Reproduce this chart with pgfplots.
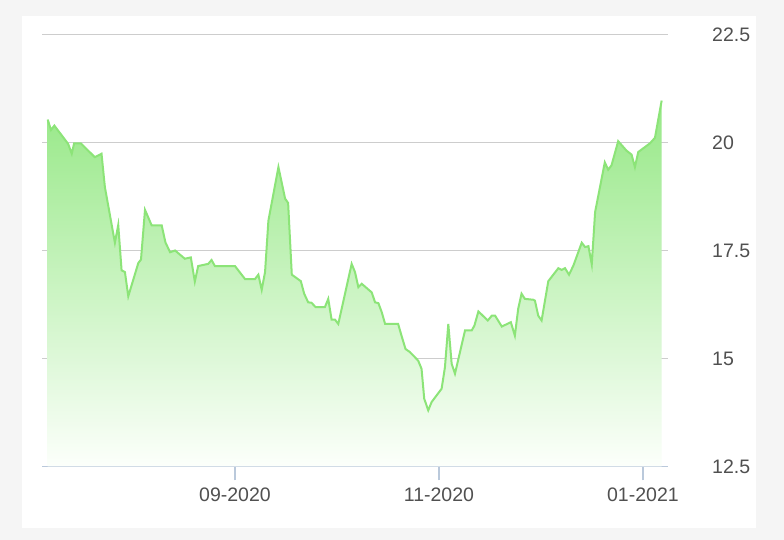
\documentclass[border=0pt]{standalone}
\usepackage{pgfplots}
\pgfplotsset{compat=1.18}
\usepackage{pgfplotstable}
\usepackage{fontspec}
\setmainfont{Liberation Sans}
\definecolor{bggray}{RGB}{245,245,245}
\definecolor{linegreen}{RGB}{140,228,120}
\definecolor{filltop}{RGB}{150,232,134}
\definecolor{fillbot}{RGB}{252,255,251}
\definecolor{gridgray}{RGB}{205,205,205}
\definecolor{axisblue}{RGB}{186,201,219}
\definecolor{labelgray}{RGB}{80,80,80}
\pgfplotstableread{
d v
-56.0 20.53
-55.0 20.29
-54.0 20.39
-49.9 19.97
-48.8 19.74
-48.1 19.98
-46.1 19.98
-41.9 19.66
-39.9 19.74
-38.9 18.97
-35.9 17.68
-34.9 18.09
-33.9 17.04
-32.9 17.00
-31.9 16.44
-28.9 17.21
-28.1 17.29
-26.9 18.44
-24.9 18.08
-21.9 18.08
-20.8 17.69
-19.4 17.46
-17.9 17.50
-15.0 17.31
-13.2 17.34
-12.0 16.78
-11.0 17.14
-8.0 17.19
-7.0 17.28
-6.0 17.14
0.0 17.14
3.0 16.84
6.0 16.84
7.0 16.94
8.0 16.59
9.0 17.00
10.0 18.19
13.0 19.43
15.0 18.70
15.9 18.60
17.0 16.94
19.7 16.79
20.7 16.50
21.9 16.30
22.9 16.29
24.1 16.19
26.9 16.19
27.9 16.38
28.9 15.90
29.9 15.90
30.9 15.80
34.9 17.19
35.9 17.00
36.9 16.65
37.9 16.73
40.9 16.53
41.9 16.30
42.9 16.28
43.9 16.07
44.9 15.80
48.8 15.80
49.8 15.53
51.0 15.22
52.3 15.15
54.8 14.95
55.8 14.76
56.6 14.07
57.8 13.80
58.8 13.99
61.8 14.30
62.8 14.80
63.8 15.80
64.8 14.88
65.8 14.65
68.8 15.65
70.8 15.65
71.6 15.76
72.8 16.09
75.6 15.88
76.8 15.99
77.8 15.99
79.8 15.74
82.5 15.84
83.7 15.53
84.7 16.15
85.7 16.50
86.7 16.38
89.2 16.36
89.7 16.34
90.7 15.99
91.7 15.88
93.7 16.79
96.7 17.09
97.7 17.05
98.7 17.09
99.9 16.94
101.2 17.15
103.7 17.68
104.7 17.58
105.7 17.60
106.7 17.18
107.7 18.39
110.6 19.54
111.6 19.37
112.6 19.47
114.6 20.03
117.1 19.81
118.6 19.72
119.6 19.43
120.6 19.78
124.1 19.98
125.6 20.11
127.6 20.97
}\data
\begin{document}
\begin{tikzpicture}[x=1bp,y=1bp]
\fill[bggray] (0,0) rectangle (784,540);
\fill[white] (22,12) rectangle (756,524);
\useasboundingbox (0,0) rectangle (784,540);
\begin{axis}[
  at={(42bp,73.5bp)}, anchor=south west,
  scale only axis, width=626bp, height=432bp,
  xmin=-57.7, xmax=129.5, ymin=12.5, ymax=22.5,
  axis x line*=bottom, axis y line*=right,
  x axis line style={draw=axisblue, line width=1.8bp, -},
  y axis line style={draw=none},
  xtick={0,61,122}, xticklabels={09-2020,11-2020,01-2021},
  ytick={12.5,15,17.5,20,22.5},
  yticklabels={12.5,15,17.5,20,22.5},
  tick align=outside, major tick length=14bp,
  xtick style={draw=axisblue, line width=1.8bp},
  ytick style={draw=none},
  ymajorgrids, grid style={draw=gridgray, line width=1.6bp},
  tick label style={font=\fontsize{19.5bp}{23bp}\selectfont, text=labelgray},
  xticklabel style={inner sep=0pt, anchor=north, yshift=-7bp},
  yticklabel style={inner sep=0pt, anchor=west, xshift=30bp},
  clip=true,
]
\addplot[draw=none, shading=axis, top color=filltop, bottom color=fillbot]
  table[x=d,y=v]{\data} -- (axis cs:127.6,12.5) -- (axis cs:-56.0,12.5) -- cycle;
\addplot[draw=linegreen, line width=2bp, mark=none] table[x=d,y=v]{\data};
\end{axis}
\end{tikzpicture}
\end{document}
